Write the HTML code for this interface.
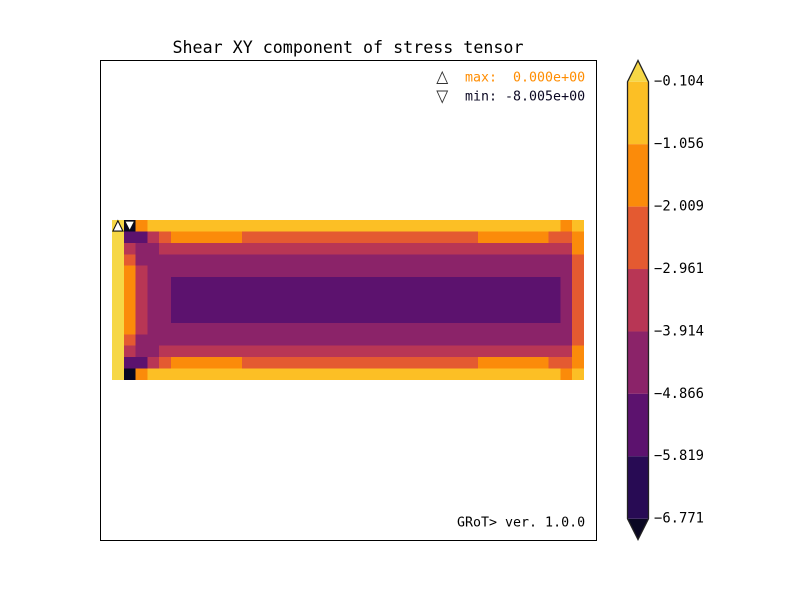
<!DOCTYPE html>
<html>
<head>
<meta charset="utf-8">
<title>Shear XY component of stress tensor</title>
<style>
html,body{margin:0;padding:0;background:#fff;width:800px;height:600px;overflow:hidden}
svg{display:block}
text{font-family:"DejaVu Sans Mono","Liberation Mono",monospace;white-space:pre}
</style>
</head>
<body>
<svg id="fig" width="800" height="600" viewBox="0 0 800 600" xmlns="http://www.w3.org/2000/svg">
  <rect x="0" y="0" width="800" height="600" fill="#fff"/>
  <g id="heatmap"></g>
  <rect x="100.5" y="60.5" width="496" height="480" fill="none" stroke="#000" stroke-width="1"/>
  <g id="markers"></g>
  <text x="348" y="53" text-anchor="middle" font-size="16.67" fill="#000">Shear XY component of stress tensor</text>
  <polygon points="437,83.5 447.5,83.5 442.25,72" fill="#fff" stroke="#333" stroke-width="0.9"/>
  <polygon points="437,91 447.5,91 442.25,102.5" fill="#fff" stroke="#333" stroke-width="0.9"/>
  <text x="465" y="81.5" font-size="13.3" fill="#ff8c00">max:  0.000e+00</text>
  <text x="465" y="100.5" font-size="13.3" fill="#0a0722">min: -8.005e+00</text>
  <text x="457" y="526.5" font-size="13.3" fill="#000">GRoT&gt; ver. 1.0.0</text>
  <g id="colorbar"></g>
</svg>
<script>
// Colorbar tick values, top to bottom
const tickValues = [-0.104, -1.056, -2.009, -2.961, -3.914, -4.866, -5.819, -6.771];
// Band colours: over, seven bands top to bottom, under
const bandColors = ['#f6d746', '#fcbf25', '#fb8b0a', '#e45a31', '#b83655', '#8b2369', '#5c126e', '#280b54', '#0a0722'];
// Stress values, one row per mesh row
const row00 = [0,-8.005,-1.53,-0.58,-0.58,-0.58,-0.58,-0.58,-0.58,-0.58,-0.58,-0.58,-0.58,-0.58,-0.58,-0.58,-0.58,-0.58,-0.58,-0.58,-0.58,-0.58,-0.58,-0.58,-0.58,-0.58,-0.58,-0.58,-0.58,-0.58,-0.58,-0.58,-0.58,-0.58,-0.58,-0.58,-0.58,-0.58,-1.53,-0.58];
const row01 = [-0.05,-5.34,-5.34,-3.44,-2.49,-1.53,-1.53,-1.53,-1.53,-1.53,-1.53,-2.49,-2.49,-2.49,-2.49,-2.49,-2.49,-2.49,-2.49,-2.49,-2.49,-2.49,-2.49,-2.49,-2.49,-2.49,-2.49,-2.49,-2.49,-2.49,-2.49,-1.53,-1.53,-1.53,-1.53,-1.53,-1.53,-2.49,-2.49,-1.53];
const row02 = [-0.05,-3.44,-4.39,-4.39,-3.44,-3.44,-3.44,-3.44,-3.44,-3.44,-3.44,-3.44,-3.44,-3.44,-3.44,-3.44,-3.44,-3.44,-3.44,-3.44,-3.44,-3.44,-3.44,-3.44,-3.44,-3.44,-3.44,-3.44,-3.44,-3.44,-3.44,-3.44,-3.44,-3.44,-3.44,-3.44,-3.44,-3.44,-3.44,-1.53];
const row03 = [-0.05,-2.49,-4.39,-4.39,-4.39,-4.39,-4.39,-4.39,-4.39,-4.39,-4.39,-4.39,-4.39,-4.39,-4.39,-4.39,-4.39,-4.39,-4.39,-4.39,-4.39,-4.39,-4.39,-4.39,-4.39,-4.39,-4.39,-4.39,-4.39,-4.39,-4.39,-4.39,-4.39,-4.39,-4.39,-4.39,-4.39,-4.39,-4.39,-2.49];
const row04 = [-0.05,-1.53,-3.44,-4.39,-4.39,-4.39,-4.39,-4.39,-4.39,-4.39,-4.39,-4.39,-4.39,-4.39,-4.39,-4.39,-4.39,-4.39,-4.39,-4.39,-4.39,-4.39,-4.39,-4.39,-4.39,-4.39,-4.39,-4.39,-4.39,-4.39,-4.39,-4.39,-4.39,-4.39,-4.39,-4.39,-4.39,-4.39,-4.39,-2.49];
const row05 = [-0.05,-1.53,-3.44,-4.39,-4.39,-5.34,-5.34,-5.34,-5.34,-5.34,-5.34,-5.34,-5.34,-5.34,-5.34,-5.34,-5.34,-5.34,-5.34,-5.34,-5.34,-5.34,-5.34,-5.34,-5.34,-5.34,-5.34,-5.34,-5.34,-5.34,-5.34,-5.34,-5.34,-5.34,-5.34,-5.34,-5.34,-5.34,-4.39,-2.49];
const row06 = [-0.05,-1.53,-3.44,-4.39,-4.39,-5.34,-5.34,-5.34,-5.34,-5.34,-5.34,-5.34,-5.34,-5.34,-5.34,-5.34,-5.34,-5.34,-5.34,-5.34,-5.34,-5.34,-5.34,-5.34,-5.34,-5.34,-5.34,-5.34,-5.34,-5.34,-5.34,-5.34,-5.34,-5.34,-5.34,-5.34,-5.34,-5.34,-4.39,-2.49];
const row07 = [-0.05,-1.53,-3.44,-4.39,-4.39,-5.34,-5.34,-5.34,-5.34,-5.34,-5.34,-5.34,-5.34,-5.34,-5.34,-5.34,-5.34,-5.34,-5.34,-5.34,-5.34,-5.34,-5.34,-5.34,-5.34,-5.34,-5.34,-5.34,-5.34,-5.34,-5.34,-5.34,-5.34,-5.34,-5.34,-5.34,-5.34,-5.34,-4.39,-2.49];
const row08 = [-0.05,-1.53,-3.44,-4.39,-4.39,-5.34,-5.34,-5.34,-5.34,-5.34,-5.34,-5.34,-5.34,-5.34,-5.34,-5.34,-5.34,-5.34,-5.34,-5.34,-5.34,-5.34,-5.34,-5.34,-5.34,-5.34,-5.34,-5.34,-5.34,-5.34,-5.34,-5.34,-5.34,-5.34,-5.34,-5.34,-5.34,-5.34,-4.39,-2.49];
const row09 = [-0.05,-1.53,-3.44,-4.39,-4.39,-4.39,-4.39,-4.39,-4.39,-4.39,-4.39,-4.39,-4.39,-4.39,-4.39,-4.39,-4.39,-4.39,-4.39,-4.39,-4.39,-4.39,-4.39,-4.39,-4.39,-4.39,-4.39,-4.39,-4.39,-4.39,-4.39,-4.39,-4.39,-4.39,-4.39,-4.39,-4.39,-4.39,-4.39,-2.49];
const row10 = [-0.05,-2.49,-4.39,-4.39,-4.39,-4.39,-4.39,-4.39,-4.39,-4.39,-4.39,-4.39,-4.39,-4.39,-4.39,-4.39,-4.39,-4.39,-4.39,-4.39,-4.39,-4.39,-4.39,-4.39,-4.39,-4.39,-4.39,-4.39,-4.39,-4.39,-4.39,-4.39,-4.39,-4.39,-4.39,-4.39,-4.39,-4.39,-4.39,-2.49];
const row11 = [-0.05,-3.44,-4.39,-4.39,-3.44,-3.44,-3.44,-3.44,-3.44,-3.44,-3.44,-3.44,-3.44,-3.44,-3.44,-3.44,-3.44,-3.44,-3.44,-3.44,-3.44,-3.44,-3.44,-3.44,-3.44,-3.44,-3.44,-3.44,-3.44,-3.44,-3.44,-3.44,-3.44,-3.44,-3.44,-3.44,-3.44,-3.44,-3.44,-1.53];
const row12 = [-0.05,-5.34,-5.34,-3.44,-2.49,-1.53,-1.53,-1.53,-1.53,-1.53,-1.53,-2.49,-2.49,-2.49,-2.49,-2.49,-2.49,-2.49,-2.49,-2.49,-2.49,-2.49,-2.49,-2.49,-2.49,-2.49,-2.49,-2.49,-2.49,-2.49,-2.49,-1.53,-1.53,-1.53,-1.53,-1.53,-1.53,-2.49,-2.49,-1.53];
const row13 = [-0.05,-8,-1.53,-0.58,-0.58,-0.58,-0.58,-0.58,-0.58,-0.58,-0.58,-0.58,-0.58,-0.58,-0.58,-0.58,-0.58,-0.58,-0.58,-0.58,-0.58,-0.58,-0.58,-0.58,-0.58,-0.58,-0.58,-0.58,-0.58,-0.58,-0.58,-0.58,-0.58,-0.58,-0.58,-0.58,-0.58,-0.58,-1.53,-0.58];
const stressRows = [row00,row01,row02,row03,row04,row05,row06,row07,row08,row09,row10,row11,row12,row13];

const NS = 'http://www.w3.org/2000/svg';
function make(tag, attrs, parent) {
  const el = document.createElementNS(NS, tag);
  for (const k in attrs) el.setAttribute(k, attrs[k]);
  parent.appendChild(el);
  return el;
}

// Axis functions
const xCell = c => 112 + c * 472 / stressRows[0].length;
const yCell = r => 220 + r * 160 / stressRows.length;
const cbTop = 81.8, cbBottom = 518.7;
const yBar = v => cbTop + (tickValues[0] - v) * (cbBottom - cbTop) / (tickValues[0] - tickValues[tickValues.length - 1]);
function colorFor(v) {
  if (v > tickValues[0]) return bandColors[0];
  for (let i = 1; i < tickValues.length; i++) {
    if (v >= tickValues[i]) return bandColors[i];
  }
  return bandColors[bandColors.length - 1];
}

// Heatmap cells
const heatmap = document.getElementById('heatmap');
let maxV = -Infinity, minV = Infinity, maxAt = [0, 0], minAt = [0, 0];
stressRows.forEach((row, r) => {
  row.forEach((v, c) => {
    if (v > maxV) { maxV = v; maxAt = [r, c]; }
    if (v < minV) { minV = v; minAt = [r, c]; }
    const cell = make('rect', {
      x: xCell(c), y: yCell(r),
      width: xCell(c + 1) - xCell(c), height: yCell(r + 1) - yCell(r),
      fill: colorFor(v), 'shape-rendering': 'crispEdges'
    }, heatmap);
    
    
  });
});

// Extrema markers
const markers = document.getElementById('markers');
const mx = (xCell(maxAt[1]) + xCell(maxAt[1] + 1)) / 2, my = (yCell(maxAt[0]) + yCell(maxAt[0] + 1)) / 2;
const upMark = make('polygon', {
  points: `${mx - 5},${my + 5.3} ${mx + 5},${my + 5.3} ${mx},${my - 5}`,
  fill: '#fff', stroke: '#111', 'stroke-width': 1.1
}, markers);


const nx = (xCell(minAt[1]) + xCell(minAt[1] + 1)) / 2, ny = (yCell(minAt[0]) + yCell(minAt[0] + 1)) / 2;
const downMark = make('polygon', {
  points: `${nx - 5},${ny - 4.7} ${nx + 5},${ny - 4.7} ${nx},${ny + 5}`,
  fill: '#fff', stroke: '#111', 'stroke-width': 1.1
}, markers);



// Colorbar
const bar = document.getElementById('colorbar');
const barL = 627.5, barR = 648.5, barMid = (barL + barR) / 2;
const overTri = make('polygon', {
  points: `${barL},${cbTop} ${barR},${cbTop} ${barMid},60.5`, fill: bandColors[0]
}, bar);


const underTri = make('polygon', {
  points: `${barL},${cbBottom} ${barR},${cbBottom} ${barMid},539.5`, fill: bandColors[bandColors.length - 1]
}, bar);


for (let i = 0; i + 1 < tickValues.length; i++) {
  const band = make('rect', {
    x: barL, y: yBar(tickValues[i]), width: barR - barL,
    height: yBar(tickValues[i + 1]) - yBar(tickValues[i]),
    fill: bandColors[i + 1]
  }, bar);
  
  
}
const outline = make('polygon', {
  points: `${barL},${cbTop} ${barMid},60.5 ${barR},${cbTop} ${barR},${cbBottom} ${barMid},539.5 ${barL},${cbBottom}`,
  fill: 'none', stroke: '#222', 'stroke-width': 1.3
}, bar);


tickValues.forEach(v => {
  const label = make('text', {
    x: 654, y: yBar(v) + 3.9, 'font-size': 13.85, fill: '#000'
  }, bar);
  label.textContent = v.toFixed(3).replace('-', '\u2212');
  
  
});
</script>
</body>
</html>
